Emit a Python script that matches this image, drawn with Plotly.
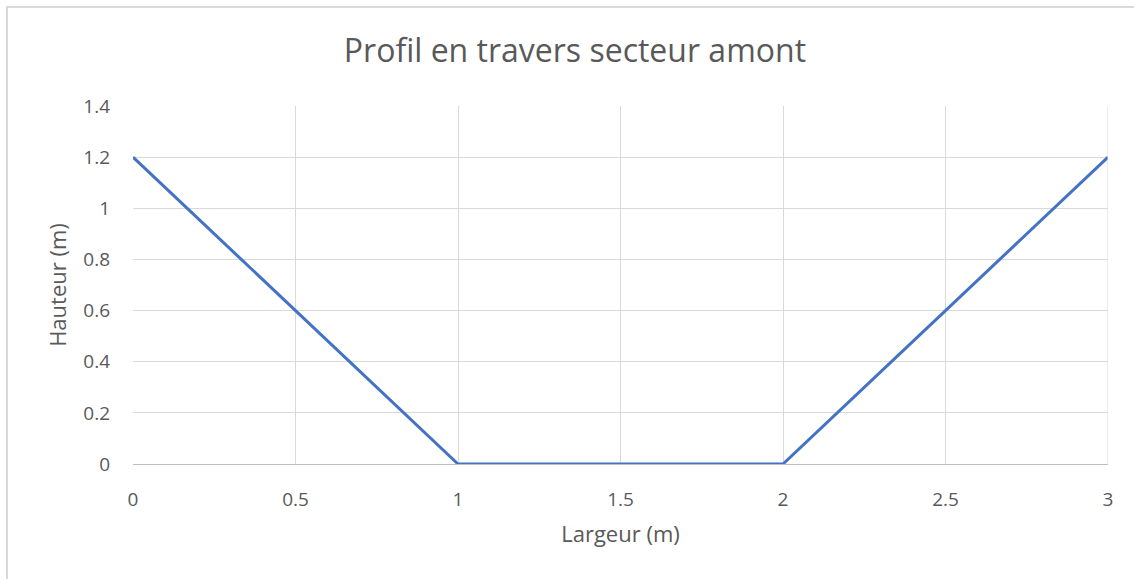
import plotly.graph_objects as go

# Cross-section profile: width (m) vs. height (m)
largeur = [0, 0.5, 1, 1.5, 2, 2.5, 3]
hauteur = [1.2, 0.6, 0, 0, 0, 0.6, 1.2]

x_ticks = [0, 0.5, 1, 1.5, 2, 2.5, 3]
x_tick_text = ["0", "0.5", "1", "1.5", "2", "2.5", "3"]
y_ticks = [0, 0.2, 0.4, 0.6, 0.8, 1, 1.2, 1.4]
y_tick_text = ["0", "0.2", "0.4", "0.6", "0.8", "1", "1.2", "1.4"]

FONT = "Open Sans, Liberation Sans, sans-serif"
TEXT = "#595959"
GRID = "#D9D9D9"

fig = go.Figure(
    go.Scatter(
        x=largeur, y=hauteur, mode="lines",
        line=dict(color="#4472C4", width=3),
        showlegend=False,
    )
)

fig.update_layout(
    width=1134, height=579,
    margin=dict(l=133, r=26, t=106, b=115),
    paper_bgcolor="white", plot_bgcolor="white",
    font=dict(family=FONT, color=TEXT, size=19),
    title=dict(
        text="Profil en travers secteur amont",
        x=0.507, xanchor="center", y=0.913, yanchor="middle",
        font=dict(size=32, color=TEXT, family=FONT),
    ),
    xaxis=dict(
        range=[0, 3], tickvals=x_ticks, ticktext=x_tick_text,
        tickfont=dict(size=19, color=TEXT, family=FONT),
        showgrid=True, gridcolor=GRID, gridwidth=1,
        showline=True, linecolor="#BFBFBF", linewidth=1,
        zeroline=False, ticks="", ticklabelstandoff=18,
        title=dict(text="Largeur (m)", font=dict(size=22, color=TEXT), standoff=15),
        mirror=False,
    ),
    yaxis=dict(
        range=[0, 1.4], tickvals=y_ticks, ticktext=y_tick_text,
        tickfont=dict(size=19, color=TEXT, family=FONT),
        showgrid=True, gridcolor=GRID, gridwidth=1,
        zeroline=False, ticks="", ticklabelstandoff=22,
        title=dict(text="Hauteur (m)", font=dict(size=22, color=TEXT), standoff=10),
    ),
    shapes=[
        # right edge of the plot area
        dict(type="line", xref="x", yref="paper", x0=3, x1=3, y0=0, y1=1,
             line=dict(color=GRID, width=1)),
        # chart frame
        dict(type="rect", xref="paper", yref="paper",
             x0=-0.1292, x1=1.2, y0=-0.5, y1=1.2765,
             line=dict(color="#D9D9D9", width=2), layer="below"),
    ],
)

fig.write_html("out.html")
